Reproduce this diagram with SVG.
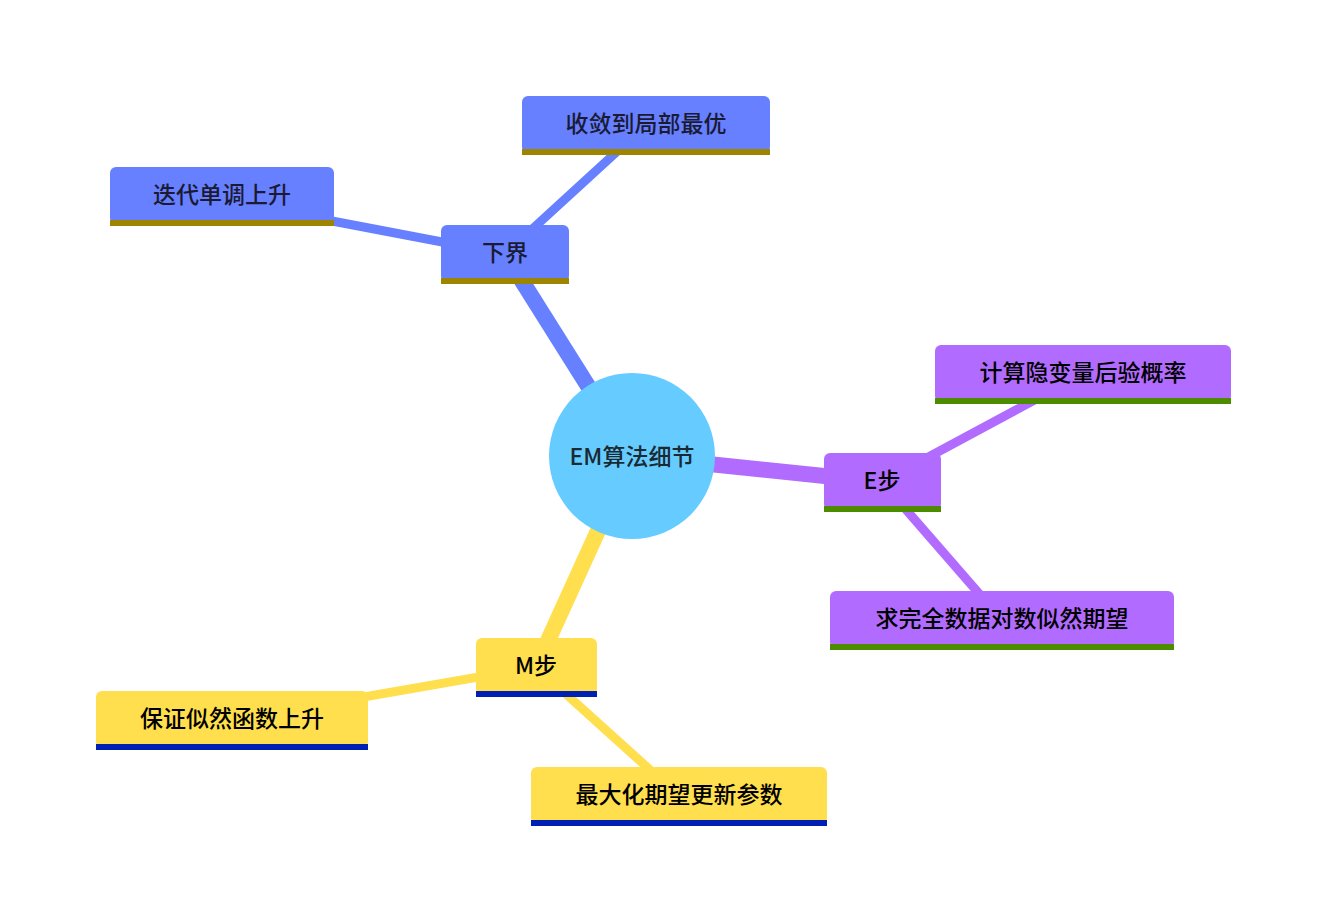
<svg xmlns="http://www.w3.org/2000/svg" width="1327" height="919" viewBox="0 0 1327 919">
<style>
text{font-family:"Noto Sans CJK SC","Noto Sans",sans-serif;font-size:23px;font-weight:500;text-anchor:middle;dominant-baseline:central}
.s0 .box{fill:#6680ff}.s0 .ul{fill:#9e8500}.s0 text{fill:#1a1a33}
.s1 .box{fill:#b26bff}.s1 .ul{fill:#4d8c00}.s1 text{fill:#000}
.s2 .box{fill:#ffdf4d}.s2 .ul{fill:#0020b3}.s2 text{fill:#000}
.e{stroke-linecap:butt;fill:none}
.e0{stroke:#6680ff}.e1{stroke:#b26bff}.e2{stroke:#ffdf4d}
.w1{stroke-width:16}.w2{stroke-width:9}
</style>
<rect width="1327" height="919" fill="#fff"/>
<g id="connectors">
<line class="e e0 w1" x1="632" y1="456" x2="505" y2="254"/>
<line class="e e0 w2" x1="505" y1="254" x2="646" y2="125"/>
<line class="e e0 w2" x1="505" y1="254" x2="222" y2="200"/>
<line class="e e1 w1" x1="632" y1="456" x2="882" y2="482"/>
<line class="e e1 w2" x1="882" y1="482" x2="1083" y2="374"/>
<line class="e e1 w2" x1="882" y1="482" x2="1002" y2="620"/>
<line class="e e2 w1" x1="632" y1="456" x2="536" y2="667"/>
<line class="e e2 w2" x1="536" y1="667" x2="232" y2="720"/>
<line class="e e2 w2" x1="536" y1="667" x2="679" y2="796"/>
</g>
<g id="root"><circle cx="632" cy="456" r="83" fill="#66ccff"/><text x="632" y="455" fill="#1a2a33">EM算法细节</text></g>
<g id="n-xiajie" class="s0"><rect class="box" x="441" y="225" width="128" height="57" rx="6"/><rect class="ul" x="441" y="278" width="128" height="6"/><text x="505" y="251">下界</text></g>
<g id="n-shoulian" class="s0"><rect class="box" x="522" y="96" width="248" height="57" rx="6"/><rect class="ul" x="522" y="149" width="248" height="6"/><text x="646" y="122">收敛到局部最优</text></g>
<g id="n-diedai" class="s0"><rect class="box" x="110" y="167" width="224" height="57" rx="6"/><rect class="ul" x="110" y="220" width="224" height="6"/><text x="222" y="193">迭代单调上升</text></g>
<g id="n-estep" class="s1"><rect class="box" x="824" y="453" width="117" height="57" rx="6"/><rect class="ul" x="824" y="506" width="117" height="6"/><text x="882" y="479">E步</text></g>
<g id="n-jisuan" class="s1"><rect class="box" x="935" y="345" width="296" height="57" rx="6"/><rect class="ul" x="935" y="398" width="296" height="6"/><text x="1083" y="371">计算隐变量后验概率</text></g>
<g id="n-qiu" class="s1"><rect class="box" x="830" y="591" width="344" height="57" rx="6"/><rect class="ul" x="830" y="644" width="344" height="6"/><text x="1002" y="617">求完全数据对数似然期望</text></g>
<g id="n-mstep" class="s2"><rect class="box" x="476" y="638" width="121" height="57" rx="6"/><rect class="ul" x="476" y="691" width="121" height="6"/><text x="536" y="664">M步</text></g>
<g id="n-baozheng" class="s2"><rect class="box" x="96" y="691" width="272" height="57" rx="6"/><rect class="ul" x="96" y="744" width="272" height="6"/><text x="232" y="717">保证似然函数上升</text></g>
<g id="n-zuida" class="s2"><rect class="box" x="531" y="767" width="296" height="57" rx="6"/><rect class="ul" x="531" y="820" width="296" height="6"/><text x="679" y="793">最大化期望更新参数</text></g>
</svg>
